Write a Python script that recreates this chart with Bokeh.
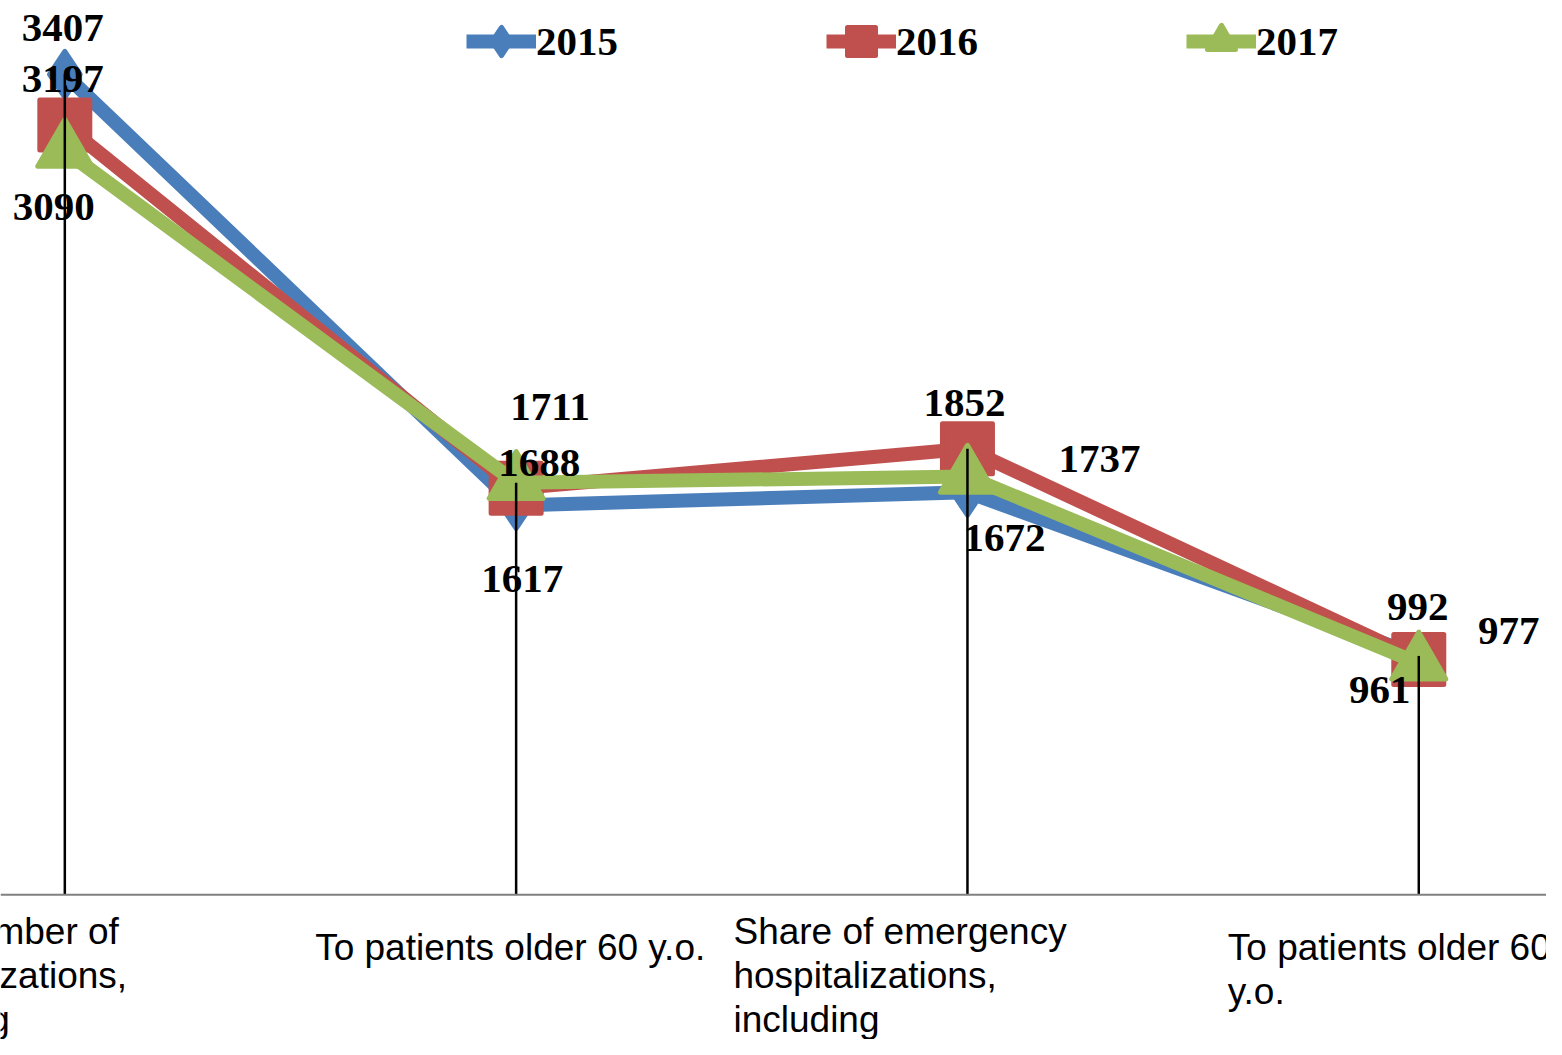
import numpy as np
from bokeh.plotting import figure
from bokeh.models import ColumnDataSource, Range1d, Span, Legend, LegendItem
from bokeh.core.properties import value
from bokeh.embed import file_html
from bokeh.resources import INLINE

# ---- data ----
categories = [
    "Total number of\nhospitalizations,\nincluding",
    "To patients older 60 y.o.",
    "Share of emergency\nhospitalizations,\nincluding",
    "To patients older 60\ny.o.",
]
years = ["2015", "2016", "2017"]
values_2015 = [3407, 1617, 1672, 992]
values_2016 = [3197, 1688, 1852, 977]
values_2017 = [3090, 1711, 1737, 961]

# ---- layout / style (not data) ----
colors = ["#4A7EBB", "#C0504D", "#9BBB59"]
markers = ["diamond", "square", "triangle"]
marker_sizes = [46, 50, 54]
# pixel offsets of each value label from its point
label_dx = [[-2, 6, 37, -1], [-2, 23, -3, 90], [-11, 34, 132, -39]]
label_dy = [[-46, 74, 46, -49], [-46, -25, -46, -29], [56, -76, -18, 27]]
cat_dx = [-201, -201, -234, -191]
cat_dy = [16, 32, 16, 32]

W, H = 1546, 1039
p = figure(width=W, height=H, x_range=Range1d(-0.1425, 3.283), y_range=Range1d(-601, 3714),
           output_backend="svg", toolbar_location=None, min_border=0,
           x_axis_location=None, y_axis_location=None)
p.grid.visible = False
p.outline_line_color = None
p.background_fill_color = "white"

xs = np.arange(len(categories))
series = [values_2015, values_2016, values_2017]

# axis line
p.add_layout(Span(location=0, dimension="width", line_color="#808080", line_width=2))

items = []
for i, vals in enumerate(series):
    src = ColumnDataSource(dict(x=xs, y=vals))
    lr = p.line("x", "y", source=src, line_color=colors[i], line_width=14, line_join="round")
    sr = p.scatter("x", "y", source=src, marker=markers[i], size=marker_sizes[i],
                   fill_color=colors[i], line_color=colors[i], line_width=5, line_join="round")
    items.append(LegendItem(label=years[i], renderers=[lr, sr]))

# drop lines from top value to axis
tops = np.max(np.array(series), axis=0)
p.segment(x0=xs, y0=np.zeros(len(xs)), x1=xs, y1=tops, line_color="black", line_width=2.5)

# value labels
for i, vals in enumerate(series):
    src = ColumnDataSource(dict(x=xs, y=vals, t=[str(v) for v in vals],
                                dx=label_dx[i], dy=label_dy[i]))
    p.text("x", "y", text="t", source=src, x_offset="dx", y_offset="dy",
           text_font=value("Liberation Serif"), text_font_style="bold",
           text_font_size="41px", text_align="center", text_baseline="middle",
           text_color="black")

# category labels
csrc = ColumnDataSource(dict(x=xs, y=np.zeros(len(xs)), t=categories, dx=cat_dx, dy=cat_dy))
p.text("x", "y", text="t", source=csrc, x_offset="dx", y_offset="dy",
       text_font=value("Liberation Sans"), text_font_size="37px",
       text_align="left", text_baseline="top", text_line_height=1.07, text_color="black")

legend = Legend(items=items, orientation="horizontal", location=(466, 963),
                border_line_alpha=0, background_fill_alpha=0,
                label_text_font="Liberation Serif", label_text_font_style="bold",
                label_text_font_size="41px", label_text_color="black",
                glyph_width=70, glyph_height=70, label_standoff=-3, spacing=208,
                padding=0, margin=0)
p.add_layout(legend)

open("out.html", "w").write(file_html(p, INLINE))
